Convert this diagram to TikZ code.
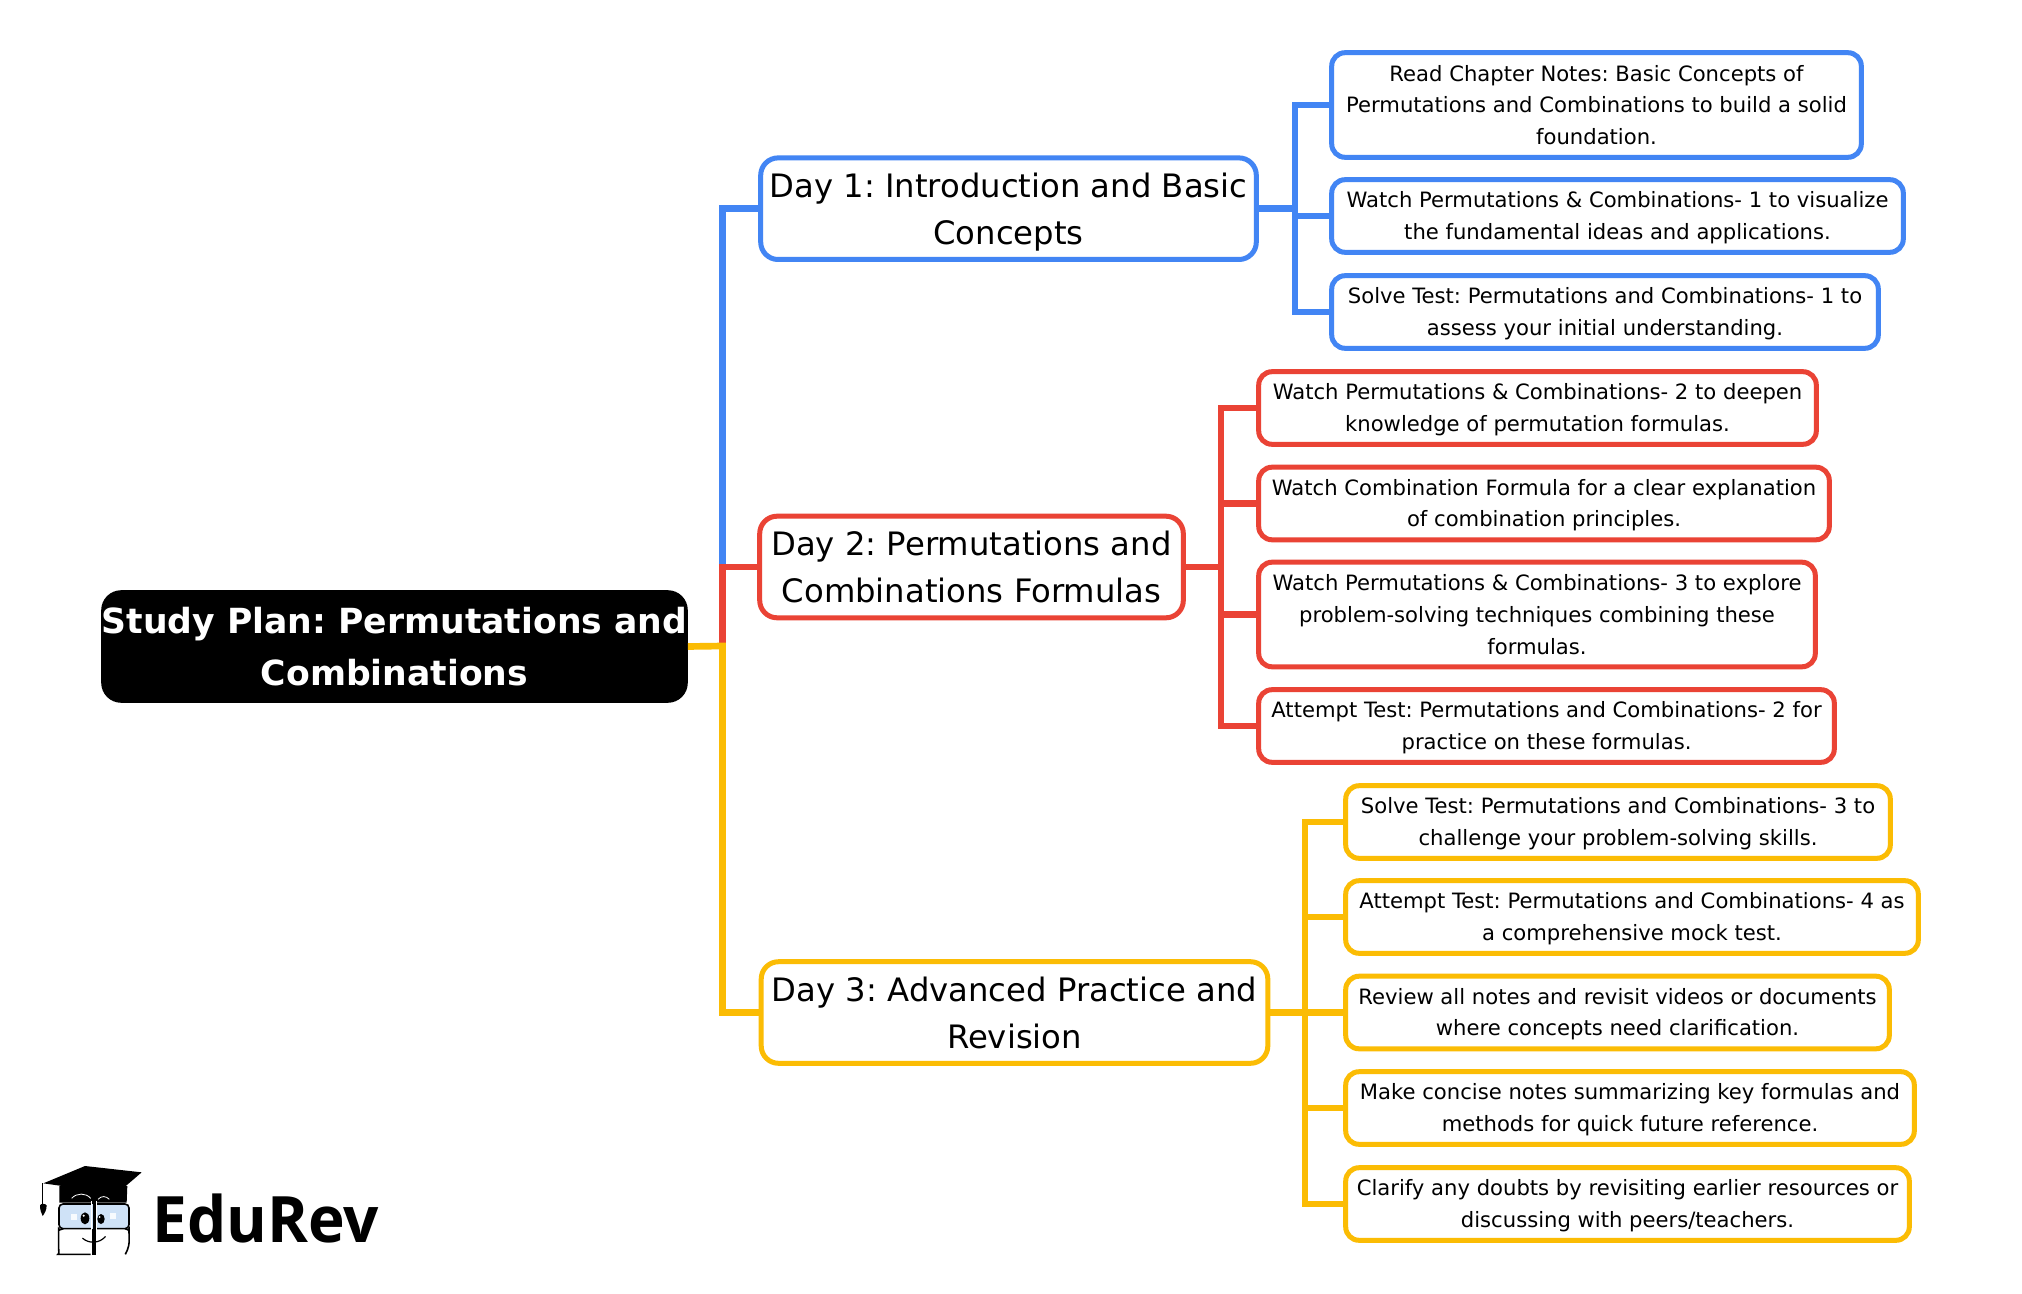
\documentclass[tikz,border=0pt]{standalone}
\usepackage{fontspec}
\setmainfont{DejaVu Sans}
\newfontfamily\logofont[FakeStretch=0.97]{Open Sans}
\definecolor{cblue}{HTML}{4285F4}
\definecolor{cred}{HTML}{EA4335}
\definecolor{cyellow}{HTML}{FBBC04}
\definecolor{lens}{HTML}{CFE2F7}
\tikzset{
  size/.style 2 args={minimum width=#1*0.75pt+1.2pt,minimum height=#2*0.75pt+1.2pt},
  basebox/.style={line width=3.75pt,fill=white,text=black,rounded corners=10pt,inner sep=0pt,align=center,outer sep=0pt},
  rootbox/.style={fill=black,text=white,rounded corners=15pt,inner sep=0pt,align=center,outer sep=0pt,font=\frenchspacing\fontsize{25.95pt}{38.4pt}\selectfont\bfseries},
  daybox/.style={basebox,draw=#1,rounded corners=13pt,font=\frenchspacing\fontsize{24.2pt}{35.2pt}\selectfont,execute at begin node={\rule[-6pt]{0pt}{65.8pt}}},
  leafbox/.style={basebox,draw=#1,font=\frenchspacing\fontsize{15.85pt}{23.8pt}\selectfont},
  leafpair/.style={leafbox=#1,execute at begin node={\rule[-4.5pt]{0pt}{44pt}}},
  link/.style={line width=5pt,line join=miter},
}
\begin{document}
\begin{tikzpicture}[x=0.75pt,y=-0.75pt]
\useasboundingbox (0,0) rectangle (2022,1294);
\fill[white] (0,0) rectangle (2022,1294);
\coordinate (trunk) at (722.5,646);
\coordinate (bluesub) at (1295,208.7);
\coordinate (redsub) at (1221,567);
\coordinate (yellowsub) at (1305,1013);

% root and days
\node[rootbox,size={585}{111}] (root) at (394.5,646.5) {Study Plan: Permutations and\\Combinations};
\node[daybox=cblue,size={494}{100}] (d1) at (1008.5,208.7) {Day 1: Introduction and Basic\\Concepts};
\node[daybox=cred,size={422}{100}] (d2) at (971.5,567) {Day 2: Permutations and\\Combinations Formulas};
\node[daybox=cyellow,size={505}{100}] (d3) at (1014.5,1012.5) {Day 3: Advanced Practice and\\Revision};

% connectors root to days
\draw[link,cblue] (trunk) |- (d1.west);
\draw[link,cred] (trunk) |- (d2.west);
\draw[link,cyellow] (root.east) -- (trunk) |- (d3.west);

% blue leaves
\node[leafbox=cblue,size={528}{103}] (a1) at (1596.5,105) {Read Chapter Notes: Basic Concepts of\\Permutations and Combinations to build a solid\\foundation.};
\node[leafpair=cblue,size={570}{71}] (a2) at (1617.5,216) {Watch Permutations \& Combinations- 1 to visualize\\the fundamental ideas and applications.};
\node[leafpair=cblue,size={545}{71}] (a3) at (1605,312) {Solve Test: Permutations and Combinations- 1 to\\assess your initial understanding.};
% red leaves
\node[leafpair=cred,size={556}{71}] (b1) at (1537.5,408) {Watch Permutations \& Combinations- 2 to deepen\\knowledge of permutation formulas.};
\node[leafpair=cred,size={569}{71}] (b2) at (1544,503.5) {Watch Combination Formula for a clear explanation\\of combination principles.};
\node[leafbox=cred,size={555}{103}] (b3) at (1537,614.5) {Watch Permutations \& Combinations- 3 to explore\\problem-solving techniques combining these\\formulas.};
\node[leafpair=cred,size={574}{71}] (b4) at (1546.5,726) {Attempt Test: Permutations and Combinations- 2 for\\practice on these formulas.};
% yellow leaves
\node[leafpair=cyellow,size={543}{71}] (c1) at (1618,822) {Solve Test: Permutations and Combinations- 3 to\\challenge your problem-solving skills.};
\node[leafpair=cyellow,size={571}{71}] (c2) at (1632,917) {Attempt Test: Permutations and Combinations- 4 as\\a comprehensive mock test.};
\node[leafpair=cyellow,size={542}{71}] (c3) at (1617.5,1012.5) {Review all notes and revisit videos or documents\\where concepts need clarification.};
\node[leafpair=cyellow,size={567}{71}] (c4) at (1630,1108) {Make concise notes summarizing key formulas and\\methods for quick future reference.};
\node[leafpair=cyellow,size={562}{71}] (c5) at (1627.5,1204) {Clarify any doubts by revisiting earlier resources or\\discussing with peers/teachers.};

% connectors from boxes
\foreach \n in {a1,a2,a3} \draw[link,cblue] (d1.east) -- (bluesub) |- (\n.west);
\foreach \n in {b1,b2,b3,b4} \draw[link,cred] (d2.east) -- (redsub) |- (\n.west);
\foreach \n in {c1,c2,c3,c4,c5} \draw[link,cyellow] (d3.east) -- (yellowsub |- d3.east) |- (\n.west);

% logo
\begin{scope}[shift={(0,1130)},x=0.25pt,y=-0.25pt]
\fill[black] (178,168) -- (382,168) -- (380,218) -- (178,218) -- cycle;
\fill[black] (130,160) -- (255,108) -- (425,127) -- (340,200) -- (215,172) -- cycle;
\draw[black,line width=0.6pt] (128,160) -- (128,225);
\fill[black] (120,226) .. controls (122,220) and (136,220) .. (140,226) .. controls (140,240) and (134,250) .. (128,258) .. controls (124,250) and (120,240) .. (120,226) -- cycle;
\draw[white,line width=0.6pt] (215,205) .. controls (230,188) and (258,188) .. (272,205);
\draw[white,line width=0.6pt] (294,208) .. controls (305,196) and (318,198) .. (328,208);
\draw[black,line width=1.2pt,fill=lens,rounded corners=3pt] (177,222) rectangle (387,296);
\draw[black,line width=1.2pt,rounded corners=4pt] (272,373) -- (190,373) .. controls (178,373) and (176,360) .. (176,340) -- (176,312) .. controls (176,304) and (180,298) .. (190,296);
\draw[black,line width=1.2pt,rounded corners=4pt] (376,373) .. controls (386,355) and (388,340) .. (387,312) .. controls (387,304) and (384,298) .. (375,296);
\fill[white] (272,214) rectangle (290,376);
\fill[black] (276,212) rectangle (288,376);
\fill[lens] (276,222) rectangle (280,296);
\fill[black] (255,265) ellipse [x radius=13,y radius=18];
\fill[black] (303,267) ellipse [x radius=11,y radius=15];
\fill[white] (251,257) circle (3.5);
\fill[white] (299,261) circle (3);
\fill[white!85!lens] (214,252) rectangle (232,270);
\fill[white!85!lens] (331,250) rectangle (349,268);
\draw[black,line width=0.9pt,line cap=round] (248,325) .. controls (268,342) and (298,340) .. (316,320);
\end{scope}
\node[anchor=base west,inner sep=0pt,font=\logofont\bfseries\fontsize{48pt}{50pt}\selectfont,text=black] (logo) at (152,1242) {EduRev};
\end{tikzpicture}
\end{document}
